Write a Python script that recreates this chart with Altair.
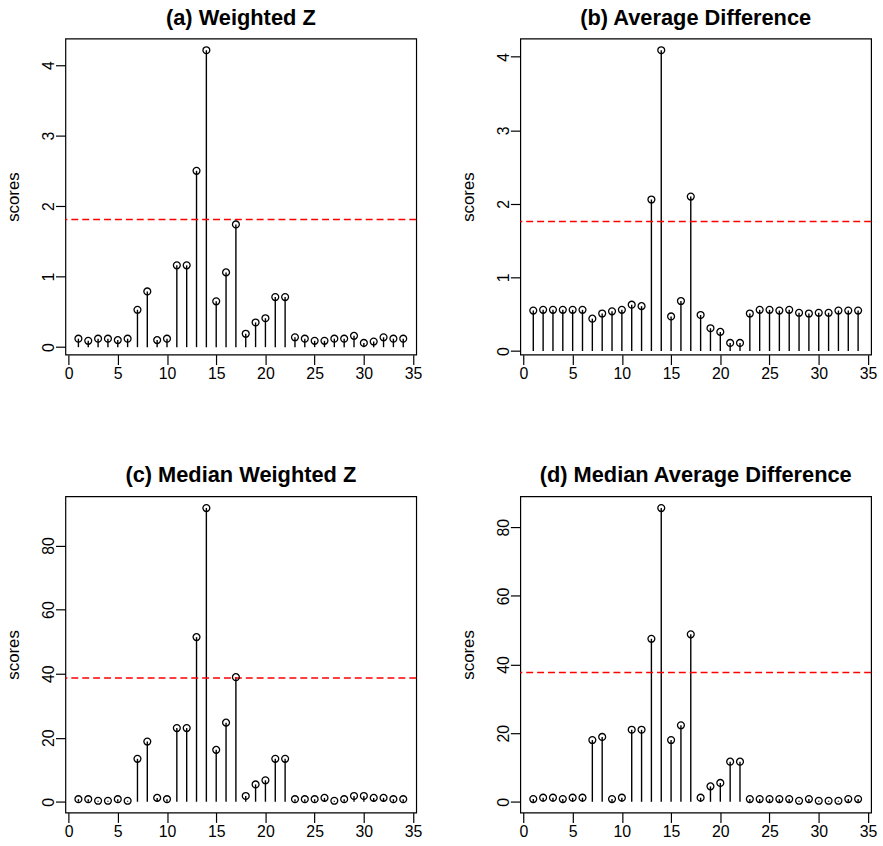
import altair as alt
import pandas as pd

idx = list(range(1, 35))

weighted_z = [0.12, 0.09, 0.12, 0.12, 0.10, 0.12, 0.53, 0.79, 0.10, 0.12,
              1.16, 1.16, 2.50, 4.21, 0.65, 1.06, 1.74, 0.19, 0.35, 0.41,
              0.71, 0.71, 0.14, 0.12, 0.09, 0.09, 0.12, 0.12, 0.16, 0.06,
              0.08, 0.14, 0.12, 0.12]
avg_diff = [0.55, 0.56, 0.56, 0.56, 0.56, 0.56, 0.44, 0.51, 0.54, 0.56,
            0.63, 0.61, 2.06, 4.09, 0.47, 0.68, 2.10, 0.49, 0.31, 0.26,
            0.11, 0.11, 0.51, 0.56, 0.56, 0.55, 0.56, 0.52, 0.51, 0.52,
            0.52, 0.55, 0.55, 0.55]
median_wz = [0.8, 0.8, 0.3, 0.3, 0.8, 0.3, 13.4, 18.8, 1.2, 0.8,
             23.0, 23.0, 51.4, 91.7, 16.2, 24.7, 38.9, 1.8, 5.4, 6.7,
             13.4, 13.4, 0.8, 0.8, 0.8, 1.2, 0.3, 0.8, 1.8, 1.8,
             1.2, 1.2, 0.8, 0.8]
median_ad = [0.8, 1.2, 1.2, 0.8, 1.2, 1.2, 18.0, 18.9, 0.8, 1.2,
             21.0, 21.0, 47.5, 85.6, 18.0, 22.3, 48.8, 1.2, 4.5, 5.5,
             11.7, 11.7, 0.8, 0.8, 0.8, 0.8, 0.8, 0.3, 0.8, 0.3,
             0.3, 0.3, 0.8, 0.8]

thresholds = [1.81, 1.76, 38.6, 37.7]
titles = ["(a) Weighted Z", "(b) Average Difference",
          "(c) Median Weighted Z", "(d) Median Average Difference"]
series = [weighted_z, avg_diff, median_wz, median_ad]
y_ticks = [[0, 1, 2, 3, 4], [0, 1, 2, 3, 4],
           [0, 20, 40, 60, 80], [0, 20, 40, 60, 80]]
x_ticks = [0, 5, 10, 15, 20, 25, 30, 35]

FONT = "Liberation Sans"
W, H = 354, 319


def panel(vals, thr, title, yt):
    lo, hi = min(vals), max(vals)
    r = hi - lo
    ydom = [lo - 0.04 * r, hi + 0.04 * r]
    xdom = [1 - 0.04 * 33, 34 + 0.04 * 33]
    df = pd.DataFrame({"x": idx, "y": vals})
    xs = alt.X("x:Q", scale=alt.Scale(domain=xdom, nice=False, zero=False),
               axis=alt.Axis(values=x_ticks, title=None, format="d",
                             labelPadding=1))
    ys = alt.Y("y:Q", scale=alt.Scale(domain=ydom, nice=False, zero=False),
               axis=alt.Axis(values=yt, title="scores", format="d",
                             labelAngle=270, labelAlign="center",
                             labelBaseline="alphabetic", labelPadding=2,
                             titlePadding=18))
    base = alt.Chart(df)
    stems = base.mark_rule(color="black", strokeWidth=1.4).encode(
        x=xs, y=ys, y2=alt.datum(0))
    pts = base.mark_point(shape="circle", filled=False, color="black",
                          size=48, strokeWidth=1.3, opacity=1).encode(x="x:Q", y="y:Q")
    thr_df = pd.DataFrame({"t": [thr]})
    line = alt.Chart(thr_df).mark_rule(color="#ff0000", strokeDash=[7, 4],
                                       strokeWidth=1.5).encode(y="t:Q")
    return alt.layer(stems, line, pts).properties(
        width=W, height=H,
        title=alt.TitleParams(title, fontSize=22, fontWeight="bold", font=FONT,
                              anchor="middle", baseline="alphabetic", offset=-8,
                              frame="group", color="black"))


panels = [panel(s, t, ti, yt) for s, t, ti, yt in zip(series, thresholds, titles, y_ticks)]

chart = alt.concat(*panels, columns=2, spacing={"row": 143, "column": 105},
                   bounds="flush").properties(
    padding={"left": 4, "top": 2, "right": 5, "bottom": 5},
    background="white"
).configure_view(stroke="black", strokeWidth=1.2).configure_axis(
    grid=False, domain=False, ticks=True, tickSize=10, tickColor="black",
    tickWidth=1.2, labelFont=FONT, labelFontSize=16, labelColor="black",
    titleFont=FONT, titleFontSize=17, titleFontWeight="normal", titleColor="black"
)

chart.save("out.html", embed_options={"renderer": "svg", "actions": False})
